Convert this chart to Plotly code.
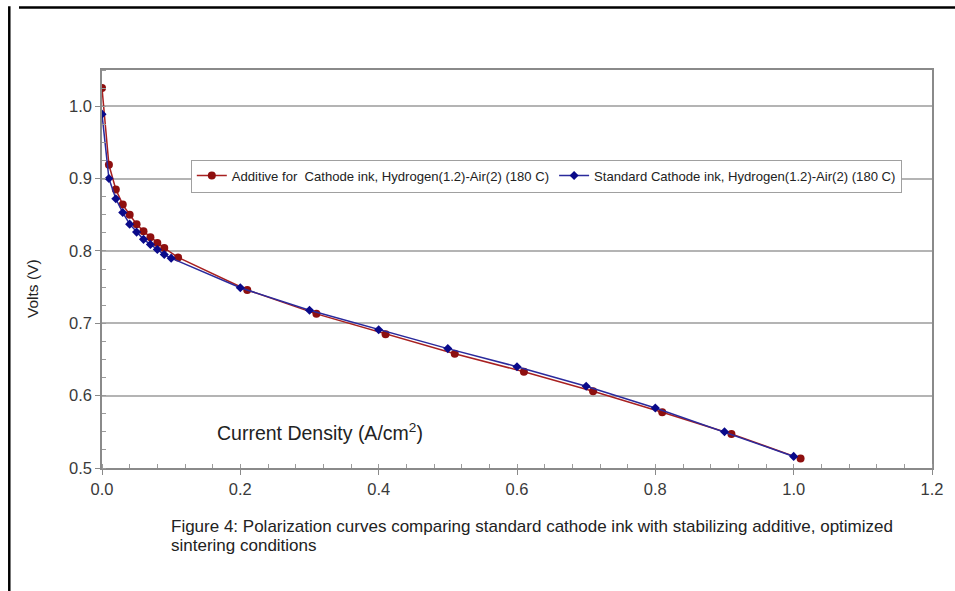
import plotly.graph_objects as go

# Polarization data, current density (A/cm2) vs cell voltage (V)
additive_current = [0.0, 0.01, 0.02, 0.03, 0.04, 0.05, 0.06, 0.07, 0.08, 0.09, 0.11,
                    0.21, 0.31, 0.41, 0.51, 0.61, 0.71, 0.81, 0.91, 1.01]
additive_volts = [1.025, 0.919, 0.885, 0.864, 0.850, 0.837, 0.827, 0.819, 0.811, 0.804, 0.791,
                  0.746, 0.713, 0.685, 0.658, 0.633, 0.606, 0.577, 0.547, 0.513]

standard_current = [0.0, 0.01, 0.02, 0.03, 0.04, 0.05, 0.06, 0.07, 0.08, 0.09, 0.10,
                    0.2, 0.3, 0.4, 0.5, 0.6, 0.7, 0.8, 0.9, 1.0]
standard_volts = [0.989, 0.900, 0.872, 0.853, 0.837, 0.826, 0.816, 0.809, 0.802, 0.795, 0.790,
                  0.749, 0.718, 0.691, 0.665, 0.640, 0.613, 0.583, 0.550, 0.516]

additive_name = "Additive for  Cathode ink, Hydrogen(1.2)-Air(2) (180 C)"
standard_name = "Standard Cathode ink, Hydrogen(1.2)-Air(2) (180 C)"

x_ticks = [0.0, 0.2, 0.4, 0.6, 0.8, 1.0, 1.2]
y_ticks = [0.5, 0.6, 0.7, 0.8, 0.9, 1.0]

caption_lines = [
    "Figure 4: Polarization curves comparing standard cathode ink with stabilizing additive, optimized",
    "sintering conditions",
]

fig = go.Figure()
fig.add_trace(go.Scatter(
    x=additive_current, y=additive_volts, name=additive_name, mode="lines+markers",
    line=dict(color="#a82020", width=1.5),
    marker=dict(symbol="circle", size=8, color="#8e0f0f"),
))
fig.add_trace(go.Scatter(
    x=standard_current, y=standard_volts, name=standard_name, mode="lines+markers",
    line=dict(color="#2a2a9c", width=1.5),
    marker=dict(symbol="diamond", size=7, color="#0a0a8a"),
))

base_family = "Liberation Sans, Arial, sans-serif"
axis_font = dict(family=base_family, size=16.5, color="#3a3a3a")

fig.update_xaxes(
    range=[0, 1.2], tickvals=x_ticks, ticktext=[f"{v:.1f}" for v in x_ticks],
    showgrid=False, zeroline=False,
    showline=True, linecolor="#8a8a8a", linewidth=1.5, mirror=True,
    ticks="outside", ticklen=5, tickcolor="#8a8a8a", tickfont=axis_font,
    minor=dict(dtick=0.04, tick0=0, ticks="inside", ticklen=4, tickcolor="#9a9a9a", showgrid=False),
)
fig.update_yaxes(
    range=[0.5, 1.05], tickvals=y_ticks, ticktext=[f"{v:.1f}" for v in y_ticks],
    showgrid=True, gridcolor="#b4b4b4", gridwidth=1.5, zeroline=False,
    showline=True, linecolor="#8a8a8a", linewidth=1.5, mirror=True,
    ticks="outside", ticklen=5, tickcolor="#8a8a8a", tickfont=axis_font,
    minor=dict(dtick=0.025, tick0=0.5, ticks="inside", ticklen=4, tickcolor="#9a9a9a", showgrid=False),
)

annotations = [
    dict(text="Volts (V)", xref="paper", yref="paper", x=-0.083, y=0.45, textangle=-90,
         showarrow=False, font=dict(size=15.5, color="#222222"), xanchor="center", yanchor="middle"),
    dict(text="Current Density (A/cm<sup>2</sup>)", xref="paper", yref="paper",
         x=0.136, y=0.09, xanchor="left", yanchor="middle", showarrow=False,
         font=dict(size=19.5, color="#222222")),
]
# caption below the axes, one annotation per line
for i, line in enumerate(caption_lines):
    annotations.append(dict(
        text=line, xref="paper", yref="paper", x=0.081, y=-0.148 - i * 0.0477,
        xanchor="left", yanchor="middle", align="left", showarrow=False,
        font=dict(size=17, color="#222222"),
    ))

fig.update_layout(
    width=955, height=591,
    margin=dict(l=102, r=21, t=70, b=123),
    paper_bgcolor="white", plot_bgcolor="white",
    showlegend=True,
    legend=dict(
        orientation="h", x=0.107, y=0.775, xanchor="left", yanchor="top",
        bgcolor="white", bordercolor="#a0a0a0", borderwidth=1,
        font=dict(family=base_family, size=13.1, color="#222222"),
        tracegroupgap=0, itemwidth=30,
    ),
    font=dict(family=base_family),
    annotations=annotations,
)

# frame: top and left edges of the figure
fig.add_shape(type="line", xref="paper", yref="paper", x0=-0.1, x1=1.03, y0=1.157, y1=1.157,
              line=dict(color="black", width=2.5))
fig.add_shape(type="line", xref="paper", yref="paper", x0=-0.1117, x1=-0.1117, y0=1.16, y1=-0.32,
              line=dict(color="black", width=2.5))

fig.write_html("out.html")
